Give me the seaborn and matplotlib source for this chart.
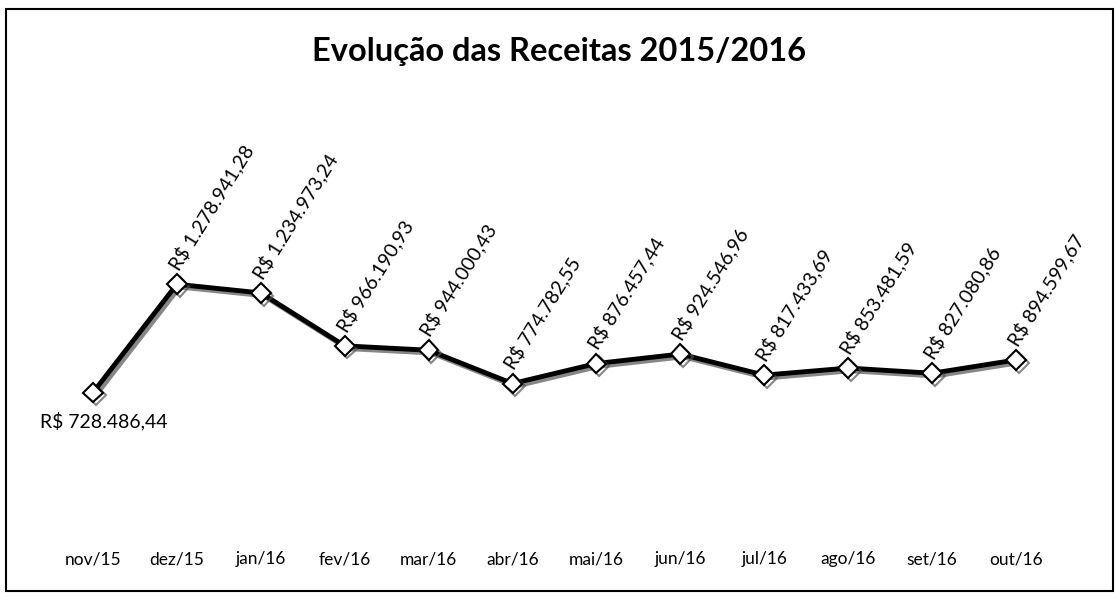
import pandas as pd
import seaborn as sns
import matplotlib.pyplot as plt
import matplotlib.patheffects as pe
from matplotlib.patches import Rectangle

# data
meses = ["nov/15", "dez/15", "jan/16", "fev/16", "mar/16", "abr/16",
         "mai/16", "jun/16", "jul/16", "ago/16", "set/16", "out/16"]
receitas = [728486.44, 1278941.28, 1234973.24, 966190.93, 944000.43, 774782.55,
            876457.44, 924546.96, 817433.69, 853481.59, 827080.86, 894599.67]
rotulos = ["R$ 728.486,44", "R$ 1.278.941,28", "R$ 1.234.973,24", "R$ 966.190,93",
           "R$ 944.000,43", "R$ 774.782,55", "R$ 876.457,44", "R$ 924.546,96",
           "R$ 817.433,69", "R$ 853.481,59", "R$ 827.080,86", "R$ 894.599,67"]

df = pd.DataFrame({"mes": meses, "receita": receitas})

sns.set_style("white")
plt.rcParams['font.family'] = ['Lato', 'DejaVu Sans']

fig = plt.figure(figsize=(11.18, 6.01), dpi=100)
ax = fig.add_axes([0.0456, 0.108, 0.9007, 0.688])

sns.lineplot(data=df, x="mes", y="receita", ax=ax, color="black", linewidth=3.5,
             marker="D", markersize=10, markerfacecolor="white",
             markeredgecolor="black", markeredgewidth=1.5, sort=False)
# sombra da linha
ax.lines[0].set_path_effects([pe.SimpleLineShadow(offset=(2, -2), shadow_color="#555555", alpha=0.7),
                              pe.Normal()])

# rotulos de dados
for i, (v, txt) in enumerate(zip(receitas, rotulos)):
    if i == 0:
        ax.annotate(txt, (i, v), xytext=(8, -14), textcoords="offset points",
                    ha="center", va="top", fontsize=14, color="black")
    else:
        ax.annotate(txt, (i, v), xytext=(3, 8), textcoords="offset points",
                    ha="left", va="bottom", rotation=58, rotation_mode="anchor",
                    fontsize=14, color="black")

ax.set_xlim(-0.5, 11.5)
ax.set_ylim(0, 2100000)
ax.set_xlabel("")
ax.set_ylabel("")
ax.set_yticks([])
ax.tick_params(axis="x", length=0, pad=11, labelsize=12.5, labelcolor="black")
sns.despine(ax=ax, left=True, bottom=True)

fig.text(0.5, 0.915, "Evolução das Receitas 2015/2016", ha="center", va="center",
         fontsize=23.5, fontweight="bold", color="black")

fig.patches.append(Rectangle((6 / 1118, 10 / 601), 1107 / 1118, 582 / 601,
                             transform=fig.transFigure, fill=False,
                             edgecolor="black", linewidth=1.5))

plt.savefig("out.png", dpi=100)
